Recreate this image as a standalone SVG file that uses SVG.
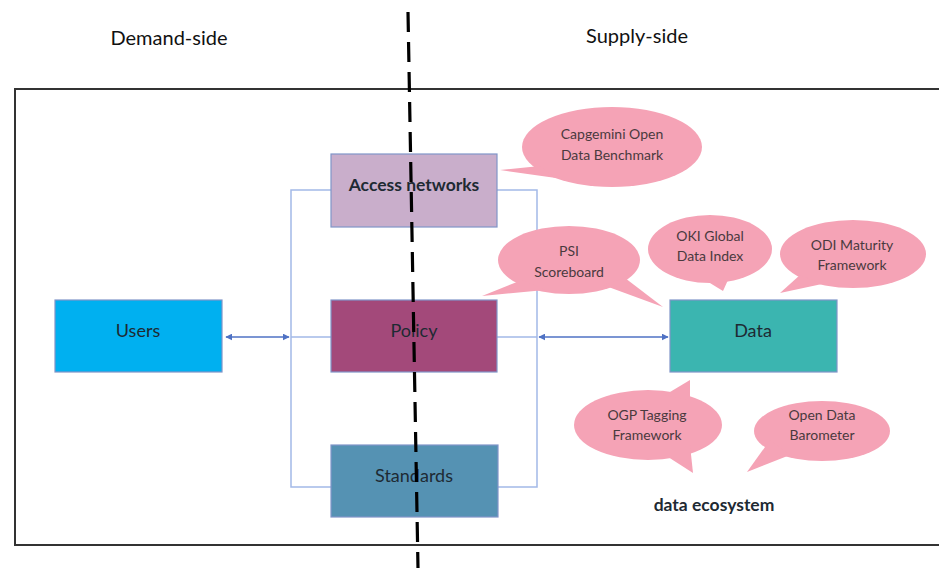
<svg xmlns="http://www.w3.org/2000/svg" width="939" height="568" viewBox="0 0 939 568">
<style>
.lbl{font-family:Lato,"Open Sans","Liberation Sans",sans-serif;text-anchor:middle;fill:#1e2a33}
.side{font-family:Lato,"Open Sans","Liberation Sans",sans-serif;font-size:20px;text-anchor:middle;fill:#111}
.bt{font-family:Lato,"Open Sans","Liberation Sans",sans-serif;font-size:14px;text-anchor:middle;fill:#4a3a3e}
.bub{fill:#F5A3B6}
.box{stroke:#8095c8;stroke-width:1.2}
.conn{fill:none;stroke:#a3b9e8;stroke-width:1.5}
.arr{fill:none;stroke:#4f72c4;stroke-width:1.5}
</style>
<defs>
<marker id="ah" viewBox="0 0 10 10" refX="9" refY="5" markerWidth="7" markerHeight="7" orient="auto-start-reverse" markerUnits="userSpaceOnUse">
<path d="M0,0 L10,5 L0,10 z" fill="#4f72c4"/>
</marker>
</defs>
<rect width="939" height="568" fill="#fff"/>
<text class="side" x="169" y="45">Demand-side</text>
<text class="side" x="637" y="43">Supply-side</text>
<rect x="15" y="89" width="930" height="456" fill="none" stroke="#333" stroke-width="2"/>
<g id="connectors">
<path class="conn" d="M331,190 H291 V487 H331 M497,190 H537 V487 H498 M291,337 H335 M497,337 H537"/>
<line class="arr" x1="226" y1="337" x2="289" y2="337" marker-start="url(#ah)" marker-end="url(#ah)"/>
<line class="arr" x1="539" y1="337" x2="668" y2="337" marker-start="url(#ah)" marker-end="url(#ah)"/>
</g>
<g id="access">
<rect class="box" x="331" y="154" width="166" height="73" fill="#C9AECB"/>
<text class="lbl" x="414" y="191" font-size="17.5" font-weight="bold" fill="#1a1a1a">Access networks</text>
</g>
<g id="policy">
<rect class="box" x="331" y="300" width="166" height="72" fill="#A3497A"/>
<text class="lbl" x="414" y="337" font-size="18">Policy</text>
</g>
<g id="standards">
<rect class="box" x="331" y="445" width="167" height="72" fill="#5592B3"/>
<text class="lbl" x="414" y="482" font-size="18">Standards</text>
</g>
<g id="users">
<rect class="box" x="55" y="300" width="167" height="72" fill="#00B0F0"/>
<text class="lbl" x="138" y="337" font-size="18">Users</text>
</g>
<g id="data">
<rect class="box" x="670" y="300" width="167" height="72" fill="#3BB5B0"/>
<text class="lbl" x="753" y="337" font-size="18">Data</text>
</g>
<g id="capgemini">
<ellipse class="bub" cx="612" cy="147" rx="90" ry="40"/>
<path class="bub" d="M540,166 L500,170 L556,178 z"/>
<text class="bt" x="612" y="139">Capgemini Open</text>
<text class="bt" x="612" y="160">Data Benchmark</text>
</g>
<g id="psi">
<ellipse class="bub" cx="569" cy="260" rx="71" ry="34"/>
<path class="bub" d="M522,280 L482,296 L545,290 z"/>
<path class="bub" d="M603,285 L663,307 L625,278 z"/>
<text class="bt" x="569" y="256">PSI</text>
<text class="bt" x="569" y="277">Scoreboard</text>
</g>
<g id="oki">
<ellipse class="bub" cx="710" cy="249" rx="62" ry="34"/>
<path class="bub" d="M705,280 L723,291 L728,280 z"/>
<text class="bt" x="710" y="241">OKI Global</text>
<text class="bt" x="710" y="261">Data Index</text>
</g>
<g id="odi">
<ellipse class="bub" cx="853" cy="254" rx="73" ry="34"/>
<path class="bub" d="M800,275 L780,293 L822,284 z"/>
<text class="bt" x="852" y="250">ODI Maturity</text>
<text class="bt" x="852" y="270">Framework</text>
</g>
<g id="ogp">
<ellipse class="bub" cx="648" cy="425" rx="74" ry="35"/>
<path class="bub" d="M665,395 L690,380 L690,400 z"/>
<path class="bub" d="M665,455 L693,473 L690,445 z"/>
<text class="bt" x="647" y="420">OGP Tagging</text>
<text class="bt" x="647" y="440">Framework</text>
</g>
<g id="barometer">
<ellipse class="bub" cx="822" cy="431" rx="68" ry="30"/>
<path class="bub" d="M770,440 L747,472 L790,455 z"/>
<text class="bt" x="822" y="420">Open Data</text>
<text class="bt" x="822" y="440">Barometer</text>
</g>
<text class="lbl" x="714" y="511" font-size="17.5" font-weight="bold" fill="#111">data ecosystem</text>
<line x1="408" y1="12" x2="418" y2="568" stroke="#000" stroke-width="3.2" stroke-dasharray="20,10"/>
</svg>
